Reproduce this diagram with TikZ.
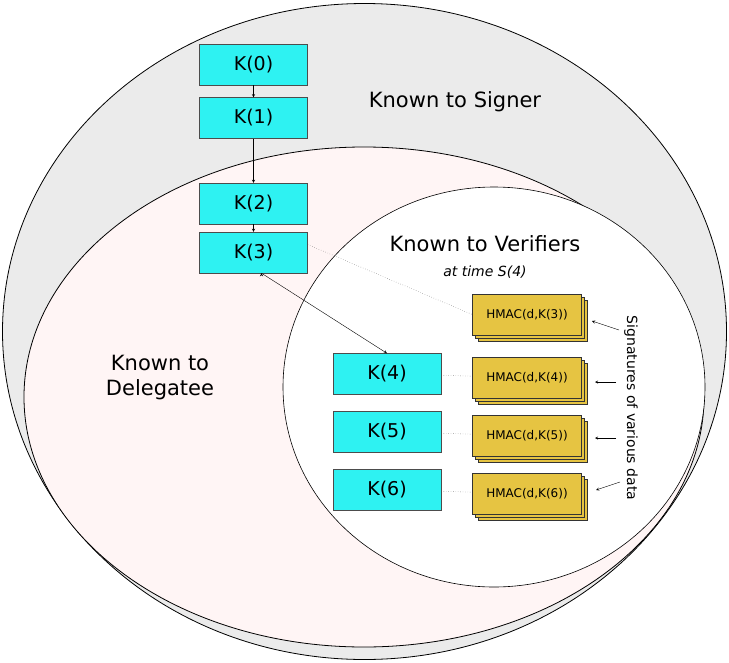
\documentclass[tikz,border=0pt]{standalone}
\usepackage{fontspec}
\setmainfont{DejaVu Sans}
\begin{document}
\begin{tikzpicture}[x=1pt,y=-1pt,
 kbox/.style={draw=black!70,fill=cyan!80!white,minimum width=108pt,minimum height=41pt,inner sep=0pt,font=\fontsize{19}{19}\selectfont},
 hbox/.style={draw=black!80,fill=yellow!75!orange!90!black!95,fill=hm,minimum width=109pt,minimum height=41pt,inner sep=0pt,font=\fontsize{12}{12}\selectfont},
 arr/.style={-stealth,black},
 dot/.style={dotted,black!70}]
\definecolor{hm}{RGB}{230,196,66}
\definecolor{kc}{RGB}{46,242,242}
\tikzset{kbox/.append style={fill=kc}}
\useasboundingbox (0,0) rectangle (729,662);
\draw[fill=black!8,line width=0.8pt] (364.5,331.5) ellipse [x radius=362,y radius=328];
\draw[fill=red!4,line width=0.8pt] (364,397) ellipse [x radius=340,y radius=250];
\draw[fill=white,line width=0.6pt] (494,387) ellipse [x radius=211,y radius=200];
\node[font=\fontsize{21}{21}\selectfont] (ts) at (455,102) {Known to Signer};
\node[font=\fontsize{21}{21}\selectfont] (tv) at (485,244) {Known to Verifiers};
\node[font=\fontsize{14}{14}\selectfont\itshape] (tt) at (485,272) {at time S(4)};
\node[font=\fontsize{21}{25}\selectfont,align=center] (td) at (160,378) {Known to\\Delegatee};
\node[kbox] (k0) at (253.5,64.5) {K(0)};
\node[kbox] (k1) at (253.5,118) {K(1)};
\node[kbox] (k2) at (253.5,203.5) {K(2)};
\node[kbox] (k3) at (253.5,252.5) {K(3)};
\node[kbox] (k4) at (387,374) {K(4)};
\node[kbox] (k5) at (387,432) {K(5)};
\node[kbox] (k6) at (387,490) {K(6)};
\foreach \n/\y/\t in {h3/314.5/3,h4/377.5/4,h5/435.5/5,h6/493.5/6}{
 \node[hbox] at (533,\y+6) {};
 \node[hbox] at (530,\y+3) {};
 \node[hbox] (\n) at (527,\y) {HMAC(d,K(\t))};
}
\draw[arr] (k0) -- (k1);
\draw[arr] (k1) -- (k2);
\draw[arr] (k2) -- (k3);
\draw[arr] (k3.south) ++(8,0) coordinate (k3s) ;
\draw[arr] (k3s) -- (k4.north);
\draw[dot] ([yshift=8pt]k3.east) -- (h3.west);
\draw[dot] (k4) -- (h4);
\draw[dot] (k5) -- (h5);
\draw[dot] (k6) -- (h6);
\node[rotate=-90,font=\fontsize{14}{14}\selectfont] (sig) at (631,408) {Signatures of various data};
\coordinate (a3) at (619,330); \coordinate (b3) at (592,321);
\coordinate (a4) at (616,382); \coordinate (b4) at (595,382);
\coordinate (a5) at (616,438); \coordinate (b5) at (595,438);
\coordinate (a6) at (620,482); \coordinate (b6) at (596,490);
\foreach \i in {3,4,5,6}{\draw[arr] (a\i) -- (b\i);}
\end{tikzpicture}
\end{document}
